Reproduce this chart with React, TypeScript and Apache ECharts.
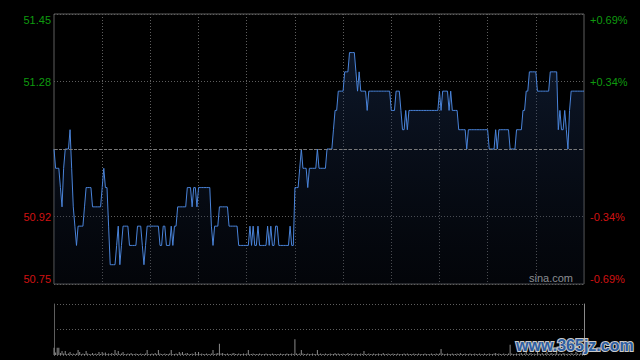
import React, { useEffect, useRef } from 'react';
import * as echarts from 'echarts';

const PRE_CLOSE = 51.1;
const PRICE_MIN = 50.75;
const PRICE_MAX = 51.45;
const PRICE_STEP = 0.175;
const priceTickLabels = ['50.75', '50.92', '', '51.28', '51.45'];
const pctTickLabels = ['-0.69%', '-0.34%', '', '+0.34%', '+0.69%'];

// one price per minute, 09:30 .. 12:00, 13:01 .. 16:00
const prices = [
  51.10, 51.05, 51.05, 51.05, 51.00, 50.95, 51.05, 51.10, 51.10, 51.10,
  51.15, 51.05, 50.95, 50.90, 50.85, 50.90, 50.90, 50.90, 50.90, 50.95,
  51.00, 51.00, 51.00, 51.00, 50.95, 50.95, 50.95, 50.95, 50.95, 50.95,
  51.00, 51.05, 51.00, 51.00, 50.90, 50.80, 50.80, 50.80, 50.80, 50.85,
  50.90, 50.80, 50.85, 50.90, 50.90, 50.90, 50.90, 50.85, 50.85, 50.85,
  50.85, 50.85, 50.90, 50.90, 50.90, 50.85, 50.80, 50.85, 50.90, 50.90,
  50.90, 50.90, 50.90, 50.90, 50.90, 50.90, 50.85, 50.85, 50.90, 50.90,
  50.85, 50.85, 50.85, 50.90, 50.85, 50.90, 50.90, 50.95, 50.95, 50.95,
  50.95, 50.95, 50.95, 51.00, 51.00, 51.00, 50.95, 51.00, 51.00, 50.95,
  51.00, 51.00, 51.00, 51.00, 51.00, 51.00, 51.00, 51.00, 50.90, 50.85,
  50.90, 50.90, 50.90, 50.95, 50.95, 50.95, 50.95, 50.95, 50.95, 50.90,
  50.90, 50.90, 50.90, 50.90, 50.90, 50.85, 50.85, 50.85, 50.85, 50.85,
  50.85, 50.85, 50.90, 50.85, 50.90, 50.85, 50.85, 50.90, 50.85, 50.85,
  50.85, 50.85, 50.85, 50.90, 50.85, 50.90, 50.85, 50.85, 50.90, 50.90,
  50.85, 50.85, 50.85, 50.85, 50.85, 50.85, 50.85, 50.90, 50.85, 50.85,
  51.00, 51.00, 51.00, 51.05, 51.10, 51.05, 51.05, 51.05, 51.00, 51.05,
  51.05, 51.05, 51.05, 51.05, 51.10, 51.05, 51.05, 51.05, 51.05, 51.05,
  51.10, 51.10, 51.10, 51.10, 51.15, 51.20, 51.20, 51.25, 51.25, 51.25,
  51.25, 51.30, 51.30, 51.30, 51.35, 51.35, 51.35, 51.35, 51.30, 51.25,
  51.30, 51.25, 51.25, 51.25, 51.25, 51.20, 51.25, 51.25, 51.25, 51.25,
  51.25, 51.25, 51.25, 51.25, 51.25, 51.25, 51.25, 51.25, 51.25, 51.25,
  51.20, 51.20, 51.20, 51.25, 51.25, 51.25, 51.20, 51.15, 51.15, 51.20,
  51.15, 51.20, 51.20, 51.20, 51.20, 51.20, 51.20, 51.20, 51.20, 51.20,
  51.20, 51.20, 51.20, 51.20, 51.20, 51.20, 51.20, 51.20, 51.20, 51.20,
  51.25, 51.20, 51.25, 51.25, 51.25, 51.25, 51.20, 51.25, 51.20, 51.20,
  51.20, 51.20, 51.15, 51.15, 51.15, 51.15, 51.15, 51.10, 51.15, 51.15,
  51.15, 51.15, 51.15, 51.15, 51.15, 51.15, 51.15, 51.15, 51.15, 51.15,
  51.15, 51.10, 51.10, 51.10, 51.10, 51.15, 51.10, 51.15, 51.15, 51.15,
  51.15, 51.15, 51.15, 51.15, 51.10, 51.10, 51.10, 51.10, 51.15, 51.15,
  51.15, 51.15, 51.20, 51.20, 51.25, 51.25, 51.30, 51.30, 51.30, 51.30,
  51.30, 51.25, 51.25, 51.25, 51.25, 51.25, 51.25, 51.25, 51.25, 51.30,
  51.30, 51.30, 51.30, 51.30, 51.15, 51.20, 51.15, 51.15, 51.20, 51.15,
  51.10, 51.20, 51.25, 51.25, 51.25, 51.25, 51.25, 51.25, 51.25, 51.25, 51.25,
];

const volumes = [
  14, 5, 14, 14, 4, 8, 3, 8, 2, 3,
  6, 2, 3, 2, 3, 10, 6, 2, 3, 2,
  8, 3, 2, 2, 4, 2, 3, 2, 6, 2,
  6, 3, 5, 2, 3, 2, 4, 2, 10, 3,
  8, 2, 3, 6, 2, 2, 3, 2, 4, 2,
  2, 3, 2, 2, 3, 2, 2, 3, 10, 2,
  2, 3, 2, 4, 2, 10, 3, 2, 2, 3,
  2, 2, 3, 10, 2, 2, 3, 2, 6, 3,
  6, 2, 3, 4, 2, 2, 3, 2, 6, 2,
  6, 2, 3, 2, 2, 3, 2, 2, 3, 10,
  2, 3, 4, 22, 3, 4, 2, 2, 3, 2,
  2, 3, 4, 2, 2, 3, 2, 2, 3, 2,
  3, 10, 2, 2, 3, 2, 2, 2, 3, 2,
  2, 2, 3, 2, 2, 2, 3, 2, 2, 2,
  2, 3, 2, 2, 2, 3, 2, 2, 3, 2,
  31, 3, 2, 3, 10, 3, 2, 2, 3, 2,
  2, 3, 2, 2, 10, 2, 3, 2, 2, 3,
  2, 2, 3, 2, 2, 4, 2, 3, 2, 2,
  3, 2, 2, 4, 2, 3, 2, 2, 3, 2,
  2, 3, 2, 8, 2, 2, 3, 2, 2, 3,
  2, 2, 3, 2, 2, 4, 2, 2, 3, 2,
  2, 3, 2, 2, 3, 2, 2, 2, 3, 2,
  3, 2, 2, 2, 3, 2, 2, 3, 2, 2,
  2, 3, 2, 2, 2, 3, 2, 2, 3, 2,
  3, 12, 3, 2, 2, 3, 2, 2, 3, 2,
  2, 3, 2, 4, 2, 2, 3, 2, 2, 3,
  2, 2, 3, 2, 2, 3, 2, 2, 3, 2,
  2, 3, 2, 2, 3, 4, 2, 3, 2, 2,
  3, 2, 2, 3, 20, 3, 2, 2, 3, 2,
  3, 4, 2, 3, 6, 2, 3, 4, 2, 3,
  2, 6, 3, 2, 4, 2, 3, 6, 2, 3,
  4, 2, 3, 6, 2, 3, 2, 4, 3, 2,
  3, 2, 4, 3, 2, 6, 3, 2, 4, 3, 6,
];

function buildTimes(): string[] {
  const out: string[] = [];
  const pad = (n: number) => (n < 10 ? '0' + n : '' + n);
  for (let t = 9 * 60 + 30; t <= 12 * 60; t++) out.push(pad(Math.floor(t / 60)) + ':' + pad(t % 60));
  for (let t = 13 * 60 + 1; t <= 16 * 60; t++) out.push(pad(Math.floor(t / 60)) + ':' + pad(t % 60));
  return out;
}
const times = buildTimes();

const GREEN = '#0f9a0f';
const RED = '#d01212';
const GRID_COLOR = '#5e5e5e';
const FONT = 'Liberation Sans, Arial, sans-serif';

const tickIndex = (v: number) => Math.round((v - PRICE_MIN) / PRICE_STEP);

export default function App() {
  const ref = useRef<HTMLDivElement>(null);
  useEffect(() => {
    document.body.style.margin = '0';
    document.body.style.background = '#000';
    const chart = echarts.init(ref.current!, null, { renderer: 'svg' });
    const option: any = {
      animation: false,
      backgroundColor: '#000',
      grid: [
        { left: 54, top: 14, width: 530, height: 270, show: true, borderColor: GRID_COLOR, borderWidth: 1, backgroundColor: 'transparent' },
        { left: 54, top: 304, width: 530, height: 51 },
      ],
      xAxis: [
        {
          type: 'category', gridIndex: 0, data: times, boundaryGap: false,
          axisLine: { show: false }, axisTick: { show: false }, axisLabel: { show: false },
          splitLine: {
            show: true,
            interval: (i: number) => i > 0 && i < times.length - 1 && i % 30 === 0,
            lineStyle: { color: GRID_COLOR, type: [1, 2], width: 1 },
          },
        },
        {
          type: 'category', gridIndex: 1, data: times, boundaryGap: false,
          axisLine: { show: false }, axisTick: { show: false }, axisLabel: { show: false },
          splitLine: { show: false },
        },
      ],
      yAxis: [
        {
          type: 'value', gridIndex: 0, position: 'left', min: PRICE_MIN, max: PRICE_MAX, interval: PRICE_STEP,
          axisLine: { show: false }, axisTick: { show: false },
          axisLabel: {
            margin: 3, fontSize: 11, fontFamily: FONT,
            verticalAlignMinLabel: 'bottom', verticalAlignMaxLabel: 'top',
            formatter: (v: number) => priceTickLabels[tickIndex(v)] ?? '',
            color: (v: number) => (v > PRE_CLOSE ? GREEN : RED),
          },
          splitLine: { show: true, lineStyle: { color: GRID_COLOR, type: [1, 2], width: 1 } },
        },
        {
          type: 'value', gridIndex: 0, position: 'right', min: PRICE_MIN, max: PRICE_MAX, interval: PRICE_STEP,
          axisLine: { show: false }, axisTick: { show: false },
          axisLabel: {
            margin: 6, fontSize: 11, fontFamily: FONT,
            verticalAlignMinLabel: 'bottom', verticalAlignMaxLabel: 'top',
            formatter: (v: number) => pctTickLabels[tickIndex(v)] ?? '',
            color: (v: number) => (v > PRE_CLOSE ? GREEN : RED),
          },
          splitLine: { show: false },
        },
        {
          type: 'value', gridIndex: 1, position: 'left', min: 0, max: 100, interval: 50,
          axisLine: { show: true, lineStyle: { color: GRID_COLOR } }, axisTick: { show: false }, axisLabel: { show: false },
          splitLine: { show: true, lineStyle: { color: GRID_COLOR, type: [1, 2], width: 1 } },
        },
        {
          type: 'value', gridIndex: 1, position: 'right', min: 0, max: 100, interval: 50,
          axisLine: { show: true, lineStyle: { color: '#8a8a8a' } }, axisTick: { show: false }, axisLabel: { show: false },
          splitLine: { show: false },
        },
      ],
      series: [
        {
          type: 'line', xAxisIndex: 0, yAxisIndex: 0, data: prices,
          showSymbol: false, symbol: 'none',
          lineStyle: { color: '#4a84da', width: 1 },
          areaStyle: {
            origin: 'start',
            color: new echarts.graphic.LinearGradient(0, 0, 0, 1, [
              { offset: 0, color: 'rgba(34,60,106,0.55)' },
              { offset: 1, color: 'rgba(12,20,38,0.35)' },
            ]),
          },
          markLine: {
            silent: true, symbol: 'none', label: { show: false },
            lineStyle: { color: '#7a7a7a', type: [3, 2], width: 1 },
            data: [{ yAxis: PRE_CLOSE }],
          },
          z: 3,
        },
        {
          type: 'bar', xAxisIndex: 1, yAxisIndex: 2, data: volumes,
          barWidth: 1, itemStyle: { color: '#8a8a8a' },
        },
      ],
      graphic: [
        {
          type: 'text', right: 67, top: 272,
          style: { text: 'sina.com', fill: '#b4b4b4', font: '11px ' + FONT },
        },
        {
          type: 'text', left: 515, top: 336,
          style: {
            text: 'www.365jz.com', fill: '#2d5ea2', stroke: '#c8c8c8', lineWidth: 2,
            font: 'bold 16px ' + FONT,
          },
          z: 100,
        },
      ],
    };
    chart.setOption(option);
    return () => chart.dispose();
  }, []);
  return <div ref={ref} style={{ width: 640, height: 360 }} />;
}
